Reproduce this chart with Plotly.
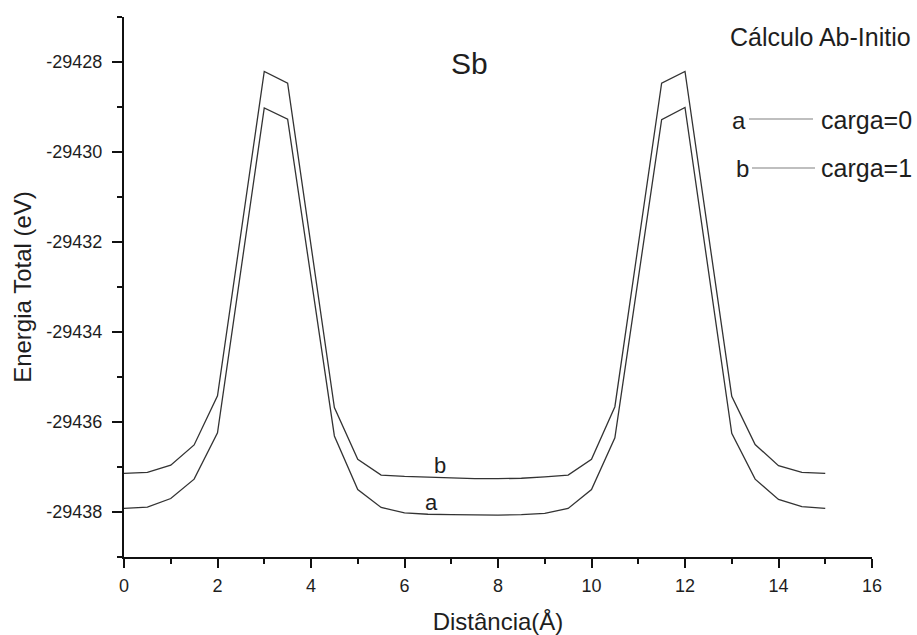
import plotly.graph_objects as go

# distance (Å)
x_vals = [0, 0.5, 1, 1.5, 2, 3, 3.5, 4.5, 5, 5.5, 6, 6.5, 7, 7.5, 8, 8.5, 9, 9.5,
          10, 10.5, 11.5, 12, 13, 13.5, 14, 14.5, 15]
# carga=0 (curve a)
energy_a = [-29437.92, -29437.89, -29437.70, -29437.27, -29436.24, -29429.02, -29429.27,
            -29436.31, -29437.50, -29437.90, -29438.02, -29438.05, -29438.06, -29438.07,
            -29438.07, -29438.06, -29438.03, -29437.92, -29437.50, -29436.35, -29429.28,
            -29429.01, -29436.25, -29437.27, -29437.72, -29437.88, -29437.92]
# carga=1 (curve b)
energy_b = [-29437.14, -29437.12, -29436.96, -29436.51, -29435.42, -29428.21, -29428.47,
            -29435.68, -29436.83, -29437.18, -29437.21, -29437.23, -29437.25, -29437.26,
            -29437.26, -29437.25, -29437.22, -29437.18, -29436.83, -29435.66, -29428.47,
            -29428.21, -29435.43, -29436.50, -29436.97, -29437.12, -29437.14]

x_ticks = [0, 2, 4, 6, 8, 10, 12, 14, 16]
y_ticks = [-29428, -29430, -29432, -29434, -29436, -29438]
y_ticktext = ["-29428", "-29430", "-29432", "-29434", "-29436", "-29438"]

FONT = "Liberation Sans, Arial, sans-serif"
TXT = "#1e1e1e"
LINE = "#333333"

fig = go.Figure()
fig.add_trace(go.Scatter(x=x_vals, y=energy_a, mode="lines", name="carga=0",
                         line=dict(color=LINE, width=1.3), showlegend=False))
fig.add_trace(go.Scatter(x=x_vals, y=energy_b, mode="lines", name="carga=1",
                         line=dict(color=LINE, width=1.3), showlegend=False))

fig.update_layout(
    template="none",
    width=917, height=635,
    margin=dict(l=124, r=45, t=17, b=78),
    paper_bgcolor="white", plot_bgcolor="white",
    font=dict(family=FONT, color=TXT, size=18),
    xaxis=dict(
        range=[0, 16], tickvals=x_ticks, ticks="outside", ticklen=9, tickwidth=1.5,
        tickcolor="#111", showline=True, linecolor="#111", linewidth=2, automargin=False,
        showgrid=False, zeroline=False, tickfont=dict(size=18, color=TXT), ticklabelstandoff=2,
        minor=dict(ticks="outside", ticklen=5, tickwidth=1.5, tickcolor="#111", dtick=1, showgrid=False),
        title=dict(text="Distância(Å)", font=dict(size=24, color=TXT), standoff=19),
    ),
    yaxis=dict(
        range=[-29439, -29427], tickvals=y_ticks, ticktext=y_ticktext, ticks="outside",
        ticklen=10, tickwidth=1.5, tickcolor="#111", showline=True, linecolor="#111",
        linewidth=2, showgrid=False, zeroline=False, tickfont=dict(size=18, color=TXT),
        automargin=False, ticklabelstandoff=6,
        minor=dict(ticks="outside", ticklen=5, tickwidth=1.5, tickcolor="#111", dtick=1, showgrid=False),
        title=dict(text="Energia Total (eV)", font=dict(size=24, color=TXT), standoff=8),
    ),
)

def px(xp):
    return (xp - 124) / 748.0

def py(yp):
    return (557 - yp) / 540.0

annotations = [
    dict(text="Sb", x=px(469), y=py(64), font=dict(size=30), xanchor="center"),
    dict(text="Cálculo Ab-Initio", x=px(913), y=py(37), font=dict(size=25), xanchor="right"),
    dict(text="a", x=px(748), y=py(121), font=dict(size=24), xanchor="right"),
    dict(text="carga=0", x=px(914), y=py(120), font=dict(size=25), xanchor="right"),
    dict(text="b", x=px(751), y=py(168), font=dict(size=24), xanchor="right"),
    dict(text="carga=1", x=px(914), y=py(168), font=dict(size=25), xanchor="right"),
]
for a in annotations:
    a.update(xref="paper", yref="paper", showarrow=False, yanchor="middle")
    fig.add_annotation(**a)

# curve labels placed in data coordinates
fig.add_annotation(x=6.75, y=-29437.25, text="b", showarrow=False, yanchor="bottom",
                   font=dict(size=22, color=TXT), yshift=-2)
fig.add_annotation(x=6.58, y=-29438.06, text="a", showarrow=False, yanchor="bottom",
                   font=dict(size=22, color=TXT), yshift=-2)

# legend sample lines
for x0, x1, yl in ((749, 813, 119), (752, 815, 168)):
    fig.add_shape(type="line", xref="paper", yref="paper",
                  x0=px(x0), x1=px(x1), y0=py(yl), y1=py(yl),
                  line=dict(color="#808080", width=1.2))

fig.write_html("out.html")
